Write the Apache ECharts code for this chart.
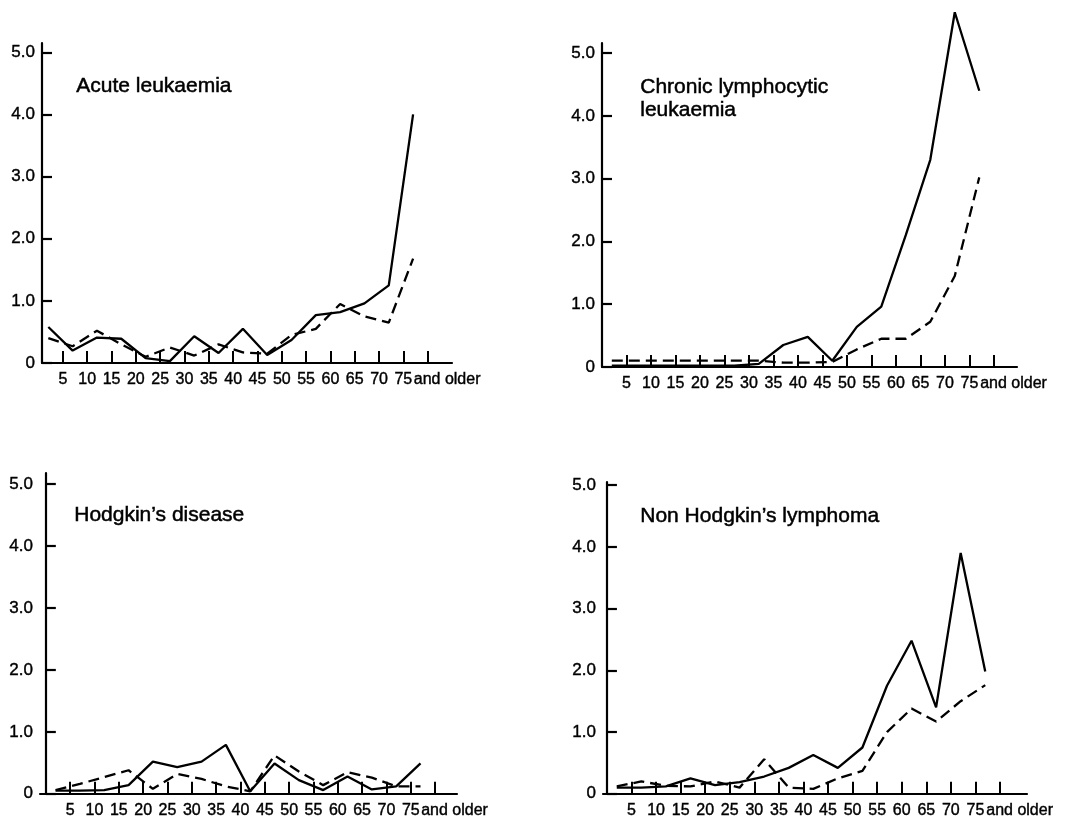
<!DOCTYPE html>
<html><head><meta charset="utf-8">
<script src="https://cdn.jsdelivr.net/npm/echarts@6/dist/echarts.min.js"></script>
<style>html,body{margin:0;padding:0;background:#fff}#c{width:1070px;height:819px}</style>
</head><body><div id="c"></div>
<script>
// Age groups (5-year bands) and their plotting positions (mean age of the band)
const ageGroups = ['0-4','5-9','10-14','15-19','20-24','25-29','30-34','35-39','40-44','45-49','50-54','55-59','60-64','65-69','70-74','75+'];
const ageMid = [2,7,12,17,22,27,32,37,42,47,52,57,62,67,72,77];
const xTickValues = [5,10,15,20,25,30,35,40,45,50,55,60,65,70,75,80];
const xLabelValues = [5,10,15,20,25,30,35,40,45,50,55,60,65,70,75,84];
const xLabelNames = ['5','10','15','20','25','30','35','40','45','50','55','60','65','70','75','and older'];
const yTickValues = [0,1,2,3,4,5];
const yLabelNames = ['0','1.0','2.0','3.0','4.0','5.0'];

const panelTitles = ['Acute leukaemia', 'Chronic lymphocytic\nleukaemia', 'Hodgkin\u2019s disease', 'Non Hodgkin\u2019s lymphoma'];

// Rates (solid line and dashed line)
const acuteSolid   = [0.58,0.20,0.41,0.39,0.08,0.03,0.43,0.16,0.55,0.13,0.37,0.77,0.82,0.96,1.25,4.00];
const acuteDashed  = [0.40,0.27,0.52,0.30,0.10,0.25,0.12,0.30,0.17,0.15,0.45,0.55,0.95,0.75,0.65,1.68];
const cllSolid     = [0.02,0.02,0.02,0.02,0.02,0.02,0.05,0.35,0.48,0.10,0.64,0.96,2.10,3.30,5.65,4.40];
const cllDashed    = [0.10,0.10,0.10,0.10,0.10,0.10,0.10,0.07,0.07,0.08,0.28,0.45,0.45,0.72,1.45,3.02];
const hodgSolid    = [0.05,0.05,0.06,0.14,0.52,0.43,0.52,0.79,0.04,0.49,0.22,0.06,0.28,0.07,0.12,0.49];
const hodgDashed   = [0.06,0.16,0.27,0.38,0.08,0.32,0.24,0.12,0.04,0.62,0.36,0.14,0.35,0.26,0.12,0.12];
const nhlSolid     = [0.10,0.10,0.12,0.25,0.14,0.19,0.28,0.42,0.63,0.42,0.75,1.75,2.48,1.40,3.90,1.98];
const nhlDashed    = [0.12,0.20,0.13,0.12,0.20,0.10,0.56,0.10,0.08,0.25,0.37,1.00,1.38,1.17,1.50,1.76];

const solidSets  = [acuteSolid, cllSolid, hodgSolid, nhlSolid];
const dashedSets = [acuteDashed, cllDashed, hodgDashed, nhlDashed];

// layout of the four panels
const panels = [
  {left:42,  top:43,  width:410, height:320, xmin:0.7,  xmax:85,   ymax:5.15, tx:76,  ty:75},
  {left:602, top:43,  width:415, height:324, xmin:0,    xmax:84.7, ymax:5.16, tx:640, ty:76},
  {left:40,  top:473, width:417, height:321, xmin:-1.2, xmax:84.5, ymax:5.18, tx:74,  ty:504},
  {left:603, top:482, width:424, height:315, xmin:-0.8, xmax:85.5, ymax:5.05, tx:640, ty:505}
];

const FONT = '"Liberation Sans", Arial, Helvetica, sans-serif';
const ink = '#000';

const grid = [], xAxis = [], yAxis = [], series = [], graphic = [];
panels.forEach((p, i) => {
  grid.push({left:p.left, top:p.top, width:p.width, height:p.height, containLabel:false});
  xAxis.push({
    type:'value', gridIndex:i, min:p.xmin, max:p.xmax,
    axisLine:{show:true, onZero:false, lineStyle:{color:ink, width:2.2}},
    axisTick:{show:true, inside:true, length:12, customValues:xTickValues, lineStyle:{color:ink, width:2}},
    axisLabel:{show:true, customValues:xLabelValues, margin:9, color:ink, fontSize:16, fontFamily:FONT,
      textBorderColor:ink, textBorderWidth:0.4,
      formatter:(v) => { const k = xLabelValues.indexOf(v); return k >= 0 ? xLabelNames[k] : ''; }},
    splitLine:{show:false}
  });
  yAxis.push({
    type:'value', gridIndex:i, min:0, max:p.ymax,
    axisLine:{show:true, lineStyle:{color:ink, width:2.2}},
    axisTick:{show:true, inside:true, length:10, customValues:yTickValues, lineStyle:{color:ink, width:2.2}},
    axisLabel:{show:true, customValues:yTickValues, margin:7, color:ink, fontSize:17, fontFamily:FONT,
      textBorderColor:ink, textBorderWidth:0.4,
      formatter:(v) => { const k = yTickValues.indexOf(v); return k >= 0 ? yLabelNames[k] : ''; }},
    splitLine:{show:false}
  });
  series.push({
    type:'line', xAxisIndex:i, yAxisIndex:i, symbol:'none', clip:false, animation:false,
    data: ageMid.map((a, k) => [a, solidSets[i][k]]),
    lineStyle:{color:ink, width:2.3, type:'solid'}
  });
  series.push({
    type:'line', xAxisIndex:i, yAxisIndex:i, symbol:'none', clip:false, animation:false,
    data: ageMid.map((a, k) => [a, dashedSets[i][k]]),
    lineStyle:{color:ink, width:2.3, type:[11,6]}
  });
  graphic.push({
    type:'text', left:p.tx, top:p.ty,
    style:{text:panelTitles[i], fill:ink, font:'21px ' + FONT, lineHeight:23, stroke:ink, lineWidth:0.5}
  });
});

const chart = echarts.init(document.getElementById('c'), null, {renderer:'canvas'});
chart.setOption({
  backgroundColor:'#fff',
  animation:false,
  grid, xAxis, yAxis, series, graphic
});
</script>
</body></html>
